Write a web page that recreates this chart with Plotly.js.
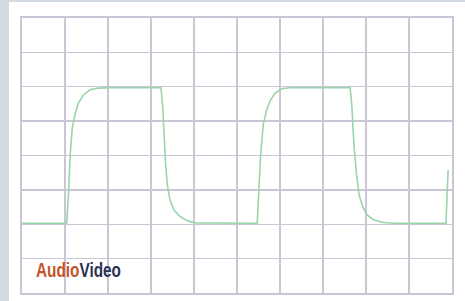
<!DOCTYPE html>
<html>
<head>
<meta charset="utf-8">
<script src="https://cdn.plot.ly/plotly-3.0.1.min.js"></script>
<style>
  html, body { margin: 0; padding: 0; width: 465px; height: 301px; overflow: hidden; background: #d3dae2; }
  #chart { position: absolute; left: 9px; top: 2px; width: 456px; height: 299px; }
</style>
</head>
<body>
<div id="chart"></div>
<script>
// Oscilloscope trace (x in divisions, y in divisions)
const timeDiv = [
  0.00, 1.04, 1.08, 1.12, 1.17, 1.23, 1.31, 1.43, 1.58, 1.77, 2.05,
  3.23, 3.27, 3.30, 3.34, 3.38, 3.44, 3.53, 3.67, 3.83, 4.02,
  5.47, 5.51, 5.55, 5.61, 5.69, 5.77, 5.88, 6.04, 6.23,
  7.63, 7.67, 7.72, 7.78, 7.84, 7.92, 8.02, 8.17, 8.40, 8.67,
  9.86, 9.91
];
const voltDiv = [
  2.03, 2.03, 2.86, 4.02, 4.80, 5.18, 5.52, 5.76, 5.91, 5.96, 5.97,
  5.97, 5.47, 4.51, 3.73, 3.15, 2.71, 2.42, 2.23, 2.11, 2.04,
  2.03, 3.05, 4.02, 4.89, 5.33, 5.59, 5.81, 5.94, 5.97,
  5.97, 5.47, 4.31, 3.44, 2.86, 2.52, 2.28, 2.13, 2.05, 2.03,
  2.03, 3.58
];
const xDivisions = [0, 10];
const yDivisions = [0, 8];
const logoParts = ["Audio", "Video"];

const gridColor = "#cbc6d6";

const trace = {
  x: timeDiv,
  y: voltDiv,
  type: "scatter",
  mode: "lines",
  line: { color: "#9ad5aa", width: 1.6, shape: "linear" },
  hoverinfo: "skip"
};

const axisCommon = {
  showgrid: true,
  gridcolor: gridColor,
  gridwidth: 1.4,
  zeroline: false,
  showticklabels: false,
  ticks: "",
  showline: true,
  mirror: true,
  linecolor: gridColor,
  linewidth: 1.6,
  dtick: 1,
  fixedrange: true
};

const layout = {
  width: 456,
  height: 299,
  margin: { l: 13, r: 13, t: 16, b: 8, pad: 0 },
  paper_bgcolor: "#ffffff",
  plot_bgcolor: "#ffffff",
  showlegend: false,
  xaxis: Object.assign({}, axisCommon, { range: xDivisions, tick0: 0 }),
  yaxis: Object.assign({}, axisCommon, { range: yDivisions, tick0: 0 }),
  annotations: [{
    xref: "paper", yref: "paper",
    x: 0.028, y: 0.038,
    xanchor: "left", yanchor: "bottom",
    showarrow: false,
    text: '<b><span style="color:#c4532b">' + logoParts[0] + '</span><span style="color:#2b3153">' + logoParts[1] + '</span></b>',
    font: { family: "Liberation Sans, Arial, sans-serif", size: 21 }
  }]
};

Plotly.newPlot("chart", [trace], layout, { displayModeBar: false, staticPlot: true }).then(function () {
  // condense the logo text horizontally to match the narrow logo lettering
  const t = document.querySelector(".annotation-text");
  if (t) {
    const bb = t.getBBox();
    const s = 85 / bb.width;
    t.setAttribute("transform", "translate(" + bb.x + ",0) scale(" + s + ",1) translate(" + (-bb.x) + ",0)");
  }
});
</script>
</body>
</html>
